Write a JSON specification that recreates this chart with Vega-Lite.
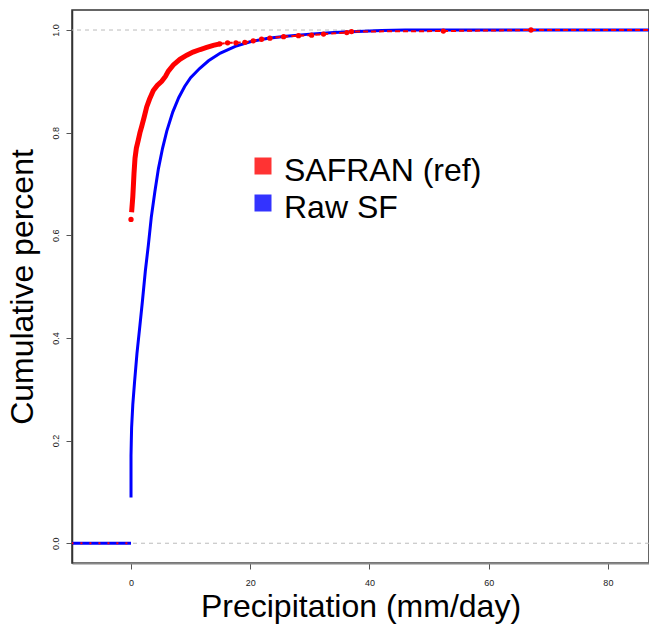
{
  "$schema": "https://vega.github.io/schema/vega-lite/v6.json",
  "width": 577,
  "height": 553,
  "autosize": {"type": "none"},
  "padding": {"left": 72, "top": 10, "right": 0, "bottom": 61},
  "background": "white",
  "config": {
    "font": "Liberation Sans",
    "view": {"stroke": "#333333", "strokeWidth": 1.5},
    "legend": {"padding": 0}
  },
  "datasets": {
    "cdf": [
      {"s": "Raw SF", "g": "neg", "x": -10, "y": 0},
      {"s": "Raw SF", "g": "neg", "x": 0, "y": 0},
      {"s": "SAFRAN (ref)", "g": "negr", "x": -10, "y": 0},
      {"s": "SAFRAN (ref)", "g": "negr", "x": 0, "y": 0},
      {"s": "Raw SF", "g": "main", "x": 0, "y": 0.089},
      {"s": "Raw SF", "g": "main", "x": 0, "y": 0.17},
      {"s": "Raw SF", "g": "main", "x": 0.05, "y": 0.2},
      {"s": "Raw SF", "g": "main", "x": 0.1, "y": 0.225},
      {"s": "Raw SF", "g": "main", "x": 0.3, "y": 0.27},
      {"s": "Raw SF", "g": "main", "x": 0.6, "y": 0.315},
      {"s": "Raw SF", "g": "main", "x": 1.0, "y": 0.37},
      {"s": "Raw SF", "g": "main", "x": 1.5, "y": 0.425},
      {"s": "Raw SF", "g": "main", "x": 1.9, "y": 0.47},
      {"s": "Raw SF", "g": "main", "x": 2.4, "y": 0.53},
      {"s": "Raw SF", "g": "main", "x": 2.9, "y": 0.58},
      {"s": "Raw SF", "g": "main", "x": 3.4, "y": 0.635},
      {"s": "Raw SF", "g": "main", "x": 4.0, "y": 0.685},
      {"s": "Raw SF", "g": "main", "x": 4.6, "y": 0.73},
      {"s": "Raw SF", "g": "main", "x": 5.3, "y": 0.77},
      {"s": "Raw SF", "g": "main", "x": 6.0, "y": 0.803},
      {"s": "Raw SF", "g": "main", "x": 7.0, "y": 0.84},
      {"s": "Raw SF", "g": "main", "x": 8.0, "y": 0.868},
      {"s": "Raw SF", "g": "main", "x": 9.0, "y": 0.89},
      {"s": "Raw SF", "g": "main", "x": 10.0, "y": 0.907},
      {"s": "Raw SF", "g": "main", "x": 11.5, "y": 0.925},
      {"s": "Raw SF", "g": "main", "x": 13.0, "y": 0.94},
      {"s": "Raw SF", "g": "main", "x": 15.0, "y": 0.955},
      {"s": "Raw SF", "g": "main", "x": 17.5, "y": 0.968},
      {"s": "Raw SF", "g": "main", "x": 20.0, "y": 0.977},
      {"s": "Raw SF", "g": "main", "x": 23.0, "y": 0.984},
      {"s": "Raw SF", "g": "main", "x": 26.0, "y": 0.988},
      {"s": "Raw SF", "g": "main", "x": 30.0, "y": 0.992},
      {"s": "Raw SF", "g": "main", "x": 34.0, "y": 0.995},
      {"s": "Raw SF", "g": "main", "x": 38.0, "y": 0.997},
      {"s": "Raw SF", "g": "main", "x": 42.0, "y": 0.999},
      {"s": "Raw SF", "g": "main", "x": 46.0, "y": 1.0},
      {"s": "Raw SF", "g": "main", "x": 90.0, "y": 1.0},
      {"s": "SAFRAN (ref)", "g": "pt", "x": 0, "y": 0.631},
      {"s": "SAFRAN (ref)", "g": "main", "x": 0.1, "y": 0.645},
      {"s": "SAFRAN (ref)", "g": "main", "x": 0.2, "y": 0.66},
      {"s": "SAFRAN (ref)", "g": "main", "x": 0.3, "y": 0.675},
      {"s": "SAFRAN (ref)", "g": "main", "x": 0.39, "y": 0.695},
      {"s": "SAFRAN (ref)", "g": "main", "x": 0.5, "y": 0.72},
      {"s": "SAFRAN (ref)", "g": "main", "x": 0.67, "y": 0.75},
      {"s": "SAFRAN (ref)", "g": "main", "x": 0.9, "y": 0.77},
      {"s": "SAFRAN (ref)", "g": "main", "x": 1.23, "y": 0.786},
      {"s": "SAFRAN (ref)", "g": "main", "x": 1.5, "y": 0.8},
      {"s": "SAFRAN (ref)", "g": "main", "x": 1.79, "y": 0.812},
      {"s": "SAFRAN (ref)", "g": "main", "x": 2.2, "y": 0.83},
      {"s": "SAFRAN (ref)", "g": "main", "x": 2.63, "y": 0.85},
      {"s": "SAFRAN (ref)", "g": "main", "x": 3.1, "y": 0.865},
      {"s": "SAFRAN (ref)", "g": "main", "x": 3.74, "y": 0.882},
      {"s": "SAFRAN (ref)", "g": "main", "x": 4.4, "y": 0.892},
      {"s": "SAFRAN (ref)", "g": "main", "x": 5.15, "y": 0.9},
      {"s": "SAFRAN (ref)", "g": "main", "x": 5.8, "y": 0.91},
      {"s": "SAFRAN (ref)", "g": "main", "x": 6.26, "y": 0.92},
      {"s": "SAFRAN (ref)", "g": "main", "x": 7.1, "y": 0.932},
      {"s": "SAFRAN (ref)", "g": "main", "x": 8.2, "y": 0.943},
      {"s": "SAFRAN (ref)", "g": "main", "x": 9.35, "y": 0.951},
      {"s": "SAFRAN (ref)", "g": "main", "x": 10.4, "y": 0.957},
      {"s": "SAFRAN (ref)", "g": "main", "x": 11.6, "y": 0.962},
      {"s": "SAFRAN (ref)", "g": "main", "x": 12.7, "y": 0.966},
      {"s": "SAFRAN (ref)", "g": "main", "x": 13.8, "y": 0.97},
      {"s": "SAFRAN (ref)", "g": "main", "x": 14.9, "y": 0.973},
      {"s": "SAFRAN (ref)", "g": "tail", "x": 14.9, "y": 0.973},
      {"s": "SAFRAN (ref)", "g": "tail", "x": 16.2, "y": 0.975},
      {"s": "SAFRAN (ref)", "g": "tail", "x": 17.6, "y": 0.975},
      {"s": "SAFRAN (ref)", "g": "tail", "x": 19.1, "y": 0.976},
      {"s": "SAFRAN (ref)", "g": "tail", "x": 20.5, "y": 0.979},
      {"s": "SAFRAN (ref)", "g": "tail", "x": 21.9, "y": 0.982},
      {"s": "SAFRAN (ref)", "g": "tail", "x": 23.3, "y": 0.984},
      {"s": "SAFRAN (ref)", "g": "tail", "x": 25.6, "y": 0.987},
      {"s": "SAFRAN (ref)", "g": "tail", "x": 28.1, "y": 0.989},
      {"s": "SAFRAN (ref)", "g": "tail", "x": 30.3, "y": 0.99},
      {"s": "SAFRAN (ref)", "g": "tail", "x": 32.3, "y": 0.992},
      {"s": "SAFRAN (ref)", "g": "tail", "x": 36.2, "y": 0.995},
      {"s": "SAFRAN (ref)", "g": "tail", "x": 37.0, "y": 0.997},
      {"s": "SAFRAN (ref)", "g": "tail", "x": 52.4, "y": 0.998},
      {"s": "SAFRAN (ref)", "g": "tail", "x": 67.1, "y": 1.0},
      {"s": "SAFRAN (ref)", "g": "tail", "x": 90.0, "y": 1.0}
    ]
  },
  "data": {"name": "cdf"},
  "encoding": {
    "x": {
      "field": "x", "type": "quantitative",
      "scale": {"domain": [-9.9, 86.9], "nice": false, "zero": false},
      "axis": {
        "values": [0, 20, 40, 60, 80],
        "title": "Precipitation (mm/day)",
        "titleFontSize": 32, "titleFontWeight": "normal", "titleColor": "#000000",
        "titlePadding": 4,
        "labelFontSize": 9, "labelColor": "#222222", "labelPadding": 9,
        "tickSize": 6, "tickColor": "#555555", "tickWidth": 1,
        "domainColor": "#888888", "domainWidth": 2,
        "grid": false
      }
    },
    "y": {
      "field": "y", "type": "quantitative",
      "scale": {"domain": [-0.0385, 1.039], "nice": false, "zero": false},
      "axis": {
        "values": [0, 0.2, 0.4, 0.6, 0.8, 1.0],
        "format": ".1f",
        "title": "Cumulative percent",
        "titleFontSize": 32, "titleFontWeight": "normal", "titleColor": "#000000",
        "titlePadding": 12,
        "labelFontSize": 9, "labelColor": "#222222", "labelPadding": 6,
        "labelAngle": 270, "labelAlign": "center", "labelBaseline": "bottom",
        "tickSize": 6, "tickColor": "#555555", "tickWidth": 1,
        "domainColor": "#333333", "domainWidth": 1.5,
        "grid": false
      }
    }
  },
  "layer": [
    {
      "data": {"values": [{"gy": 0}, {"gy": 1}]},
      "mark": {"type": "rule", "color": "#BBBBBB", "strokeDash": [4, 4], "strokeWidth": 1},
      "encoding": {"y": {"field": "gy", "type": "quantitative"}, "x": null}
    },
    {
      "transform": [{"filter": "datum.g === 'neg'"}],
      "mark": {"type": "line", "strokeWidth": 3, "clip": true},
      "encoding": {
        "color": {
          "field": "s", "type": "nominal",
          "scale": {"domain": ["SAFRAN (ref)", "Raw SF"], "range": ["#FF0000", "#0000FF"]},
          "legend": {
            "title": null, "orient": "none", "legendX": 175, "legendY": 140,
            "symbolType": "square", "symbolSize": 289, "symbolStrokeWidth": 0,
            "labelFontSize": 32, "labelColor": "#000000", "labelOffset": 5,
            "labelLimit": 400, "rowPadding": 0,
            "encode": {
              "symbols": {"update": {"fill": {"scale": "color", "field": "value"}, "fillOpacity": {"value": 0.8}, "stroke": {"value": "transparent"}}},
              "labels": {"update": {"dy": {"value": 5}}}
            }
          }
        }
      }
    },
    {
      "transform": [{"filter": "datum.g === 'negr'"}],
      "mark": {"type": "line", "strokeWidth": 2, "strokeDash": [2, 7], "clip": true},
      "encoding": {"color": {"field": "s", "type": "nominal"}}
    },
    {
      "transform": [{"filter": "datum.g === 'main' && datum.s === 'Raw SF'"}],
      "mark": {"type": "line", "strokeWidth": 3, "clip": true},
      "encoding": {"color": {"field": "s", "type": "nominal"}}
    },
    {
      "transform": [{"filter": "datum.g === 'main' && datum.s === 'SAFRAN (ref)'"}],
      "mark": {"type": "line", "strokeWidth": 5, "clip": true},
      "encoding": {"color": {"field": "s", "type": "nominal"}}
    },
    {
      "transform": [{"filter": "datum.g === 'tail'"}],
      "mark": {"type": "line", "strokeWidth": 2, "strokeDash": [5, 3], "clip": true},
      "encoding": {"color": {"field": "s", "type": "nominal"}}
    },
    {
      "transform": [{"filter": "(datum.g === 'tail' && datum.x < 80) || datum.g === 'pt'"}],
      "mark": {"type": "circle", "size": 28, "opacity": 1, "clip": true},
      "encoding": {"color": {"field": "s", "type": "nominal"}}
    }
  ]
}
